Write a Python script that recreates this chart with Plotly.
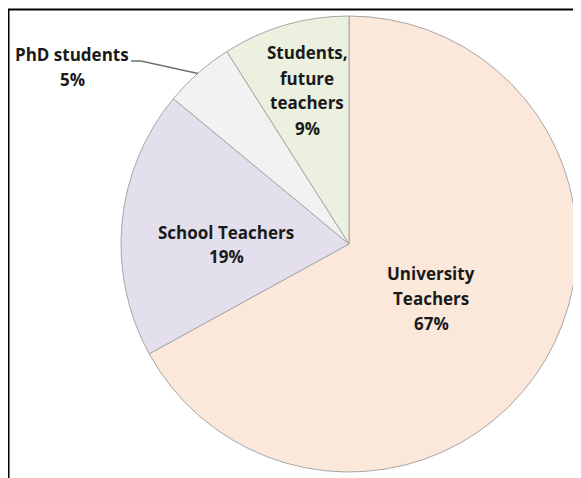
import plotly.graph_objects as go

labels = ["University<br>Teachers", "School Teachers", "PhD students", "Students,<br>future<br>teachers"]
values = [67, 19, 5, 9]
colors = ["#FCE8DA", "#E4DFEC", "#F2F2F2", "#EBF1DE"]

# page body has an 8px margin; work in screen pixels and convert
OX, OY = 8, 8
W, H = 581 - OX, 478 - OY
CX, CY, RAD = 349, 244, 228
L = CX - RAD - OX
T = CY - RAD - OY
R = W - L - 2 * RAD
B = H - T - 2 * RAD
PW, PH = 2 * RAD, 2 * RAD

def px(x):
    return (x - OX - L) / PW

def py(y):
    return (H - B - (y - OY)) / PH

fig = go.Figure(go.Pie(
    labels=[l.replace("<br>", " ") for l in labels],
    values=values,
    sort=False,
    direction="clockwise",
    rotation=0,
    textinfo="none",
    hoverinfo="label+percent",
    marker=dict(colors=colors, line=dict(color="#A6A6A6", width=1)),
    showlegend=False,
))

# label anchor centers (screen pixels) and line spacing
anchors = [(431, 273), (226, 232), (72, 54), (307, 53)]
spacing = 25
annotations = []
for lab, val, (cx, cy) in zip(labels, values, anchors):
    lines = lab.split("<br>") + [f"{val}%"]
    for i, ln in enumerate(lines):
        annotations.append(dict(
            x=px(cx), y=py(cy + i * spacing), xref="paper", yref="paper",
            text=f"<b>{ln}</b>", showarrow=False,
            xanchor="center", yanchor="middle",
            font=dict(family="'Open Sans', sans-serif", size=17, color="#1a1a1a"),
        ))

shapes = [
    # frame top and left
    dict(type="line", xref="paper", yref="paper", x0=px(7), x1=px(581), y0=py(9.5), y1=py(9.5),
         line=dict(color="#000000", width=2)),
    dict(type="line", xref="paper", yref="paper", x0=px(8.5), x1=px(8.5), y0=py(9), y1=py(478),
         line=dict(color="#000000", width=2)),
    # leader line for PhD students
    dict(type="path", xref="paper", yref="paper",
         path=f"M {px(131)} {py(61)} L {px(141)} {py(61)} L {px(198)} {py(73.5)}",
         line=dict(color="#6F6F6F", width=1.3)),
]

fig.update_layout(
    width=W, height=H,
    margin=dict(l=L, r=R, t=T, b=B, autoexpand=False),
    paper_bgcolor="white", plot_bgcolor="white",
    annotations=annotations, shapes=shapes,
)

fig.write_html("out.html")
